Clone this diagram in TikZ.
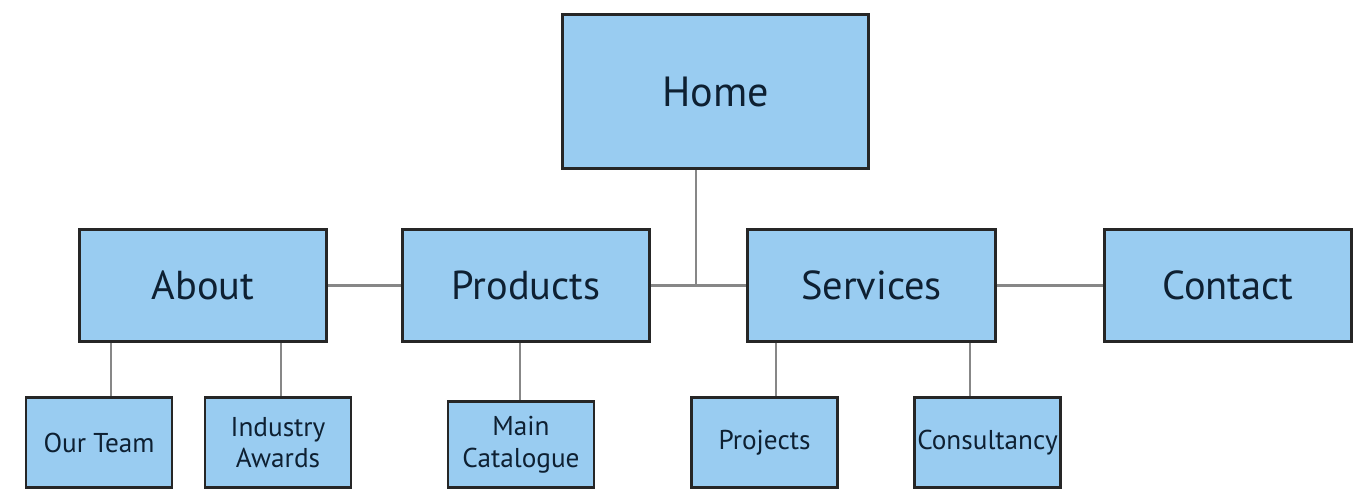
\documentclass[tikz,border=0pt]{standalone}
\usepackage{fontspec}
\setmainfont{PT Sans}
\usepackage{xcolor}
\usepackage{tikz}
\definecolor{boxblue}{RGB}{153,204,241}
\definecolor{boxtext}{RGB}{14,32,50}
\definecolor{linkgray}{RGB}{135,135,135}
\tikzset{%
    page/.style={draw=black!85,line width=1.6pt,fill=boxblue,text=boxtext,
      inner sep=0pt,align=center},
    big/.style={page,minimum width=4.95cm,minimum height=2.25cm,
      font=\fontsize{23}{27}\selectfont},
    small/.style={page,minimum width=2.92cm,minimum height=1.8cm,
      font=\fontsize{15.5}{18}\selectfont},
    link/.style={draw=linkgray,line width=1.2pt}
}

\begin{document}
\begin{tikzpicture}[x=0.02cm,y=-0.02cm]
    \useasboundingbox (0,0) rectangle (1353,489);
    % top
    \node[page,minimum width=6.13cm,minimum height=3.09cm,
      font=\fontsize{24}{28}\selectfont] (home) at (715.5,91.5) {Home};
    %
    \node[big] (about) at (203,285.5) {About};
    \node[big] (products) at (526,285.5) {Products};
    \node[big] (services) at (871.5,285.5) {Services};
    \node[big] (contact) at (1228,285.5) {Contact};
    %
    \node[small] (ourteam) at (99,442.5) {Our Team};
    \node[small] (awards) at (278,442.5) {Industry\\Awards};
    \node[small,minimum height=1.72cm] (catalogue) at (521,444.5) {Main\\Catalogue};
    \node[small] (projects) at (764.5,442.5) {Projects};
    \node[small] (consultancy) at (987.5,442.5) {Consultancy};
    %
    \coordinate (hub) at (696,285.5);
    \path (111,0) coordinate (x1) (281,0) coordinate (x2) (520,0) coordinate (x3)
      (776,0) coordinate (x4) (970,0) coordinate (x5);
    \draw[link] (home.south -| hub) -- (hub);
    \draw[link] (about) -- (products);
    \draw[link] (products) -- (services);
    \draw[link] (services) -- (contact);
    %
    \draw[link] (about.south -| x1) -- (ourteam.north -| x1);
    \draw[link] (about.south -| x2) -- (awards.north -| x2);
    \draw[link] (products.south -| x3) -- (catalogue.north -| x3);
    \draw[link] (services.south -| x4) -- (projects.north -| x4);
    \draw[link] (services.south -| x5) -- (consultancy.north -| x5);
\end{tikzpicture}
\end{document}
